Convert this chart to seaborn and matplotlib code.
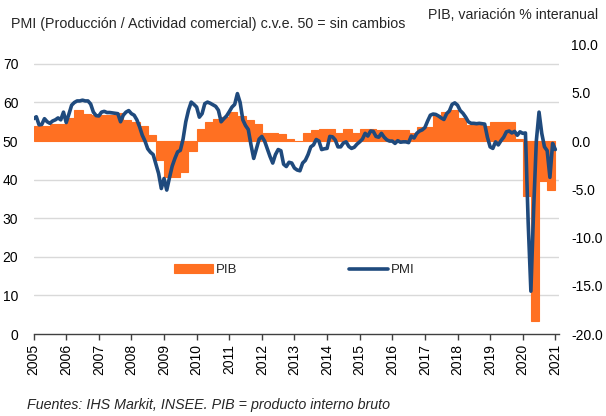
import seaborn as sns
from matplotlib import pyplot as plt
from matplotlib.ticker import FormatStrFormatter
import numpy as np
import pandas as pd

# PMI composite (production / business activity), monthly, Jan 2005 - Jan 2021
pmi_2005 = [55.8, 56.3, 54.2, 54.3, 55.8, 55.0, 54.6, 55.2, 55.5, 56.0, 55.5, 57.5]
pmi_2006 = [54.8, 57.0, 59.3, 60.0, 60.4, 60.4, 60.6, 60.4, 60.4, 59.6, 57.5, 56.6]
pmi_2007 = [56.5, 57.5, 57.7, 57.4, 57.4, 57.3, 57.2, 57.1, 55.0, 56.7, 57.5, 57.9]
pmi_2008 = [57.1, 56.7, 55.5, 53.7, 51.5, 50.0, 48.0, 47.1, 46.5, 44.0, 41.6, 37.7]
pmi_2009 = [40.3, 37.3, 40.5, 43.5, 45.5, 47.2, 47.6, 50.5, 55.0, 58.0, 60.1, 59.5]
pmi_2010 = [58.8, 56.2, 57.1, 59.7, 60.1, 59.8, 59.4, 59.0, 58.0, 55.0, 55.8, 56.5]
pmi_2011 = [57.6, 58.8, 59.5, 62.3, 60.0, 55.5, 54.0, 53.0, 49.0, 45.5, 48.0, 50.5]
pmi_2012 = [51.2, 50.0, 48.0, 46.0, 44.3, 46.5, 47.8, 47.5, 44.0, 43.4, 44.5, 44.3]
pmi_2013 = [43.0, 42.5, 42.3, 44.3, 45.0, 46.5, 48.5, 49.0, 50.4, 50.0, 47.8, 48.0]
pmi_2014 = [48.1, 51.2, 51.1, 50.3, 48.5, 48.5, 49.5, 49.8, 48.6, 48.1, 48.4, 49.2]
pmi_2015 = [49.8, 50.5, 52.0, 51.3, 52.6, 52.5, 51.2, 51.0, 52.0, 51.0, 50.3, 50.0]
pmi_2016 = [50.0, 49.4, 50.1, 49.7, 49.8, 49.8, 49.6, 51.3, 50.8, 52.0, 52.6, 52.9]
pmi_2017 = [53.5, 55.2, 56.7, 57.0, 56.9, 56.5, 56.0, 55.6, 57.1, 57.8, 59.5, 59.9]
pmi_2018 = [59.3, 57.9, 57.2, 56.2, 55.0, 54.6, 54.6, 54.5, 54.6, 54.5, 54.4, 51.0]
pmi_2019 = [48.5, 48.1, 49.8, 49.0, 50.1, 51.0, 52.4, 52.6, 52.1, 52.5, 51.5, 52.4]
pmi_2020 = [52.0, 52.1, 29.0, 11.1, 32.1, 50.0, 57.5, 52.0, 48.5, 47.5, 40.6, 49.4]
pmi_2021 = [47.8]

# PIB (GDP), % year on year, quarterly, 2005Q1 - 2020Q4
pib_2005 = [1.6, 1.6, 1.8, 1.8]
pib_2006 = [2.4, 3.2, 2.8, 2.7]
pib_2007 = [2.7, 2.7, 2.9, 2.2]
pib_2008 = [2.0, 1.6, 0.6, -2.0]
pib_2009 = [-3.7, -3.7, -3.2, -1.0]
pib_2010 = [1.2, 2.0, 2.3, 2.5]
pib_2011 = [3.0, 2.6, 2.2, 1.8]
pib_2012 = [0.8, 0.8, 0.7, 0.2]
pib_2013 = [0.0, 0.8, 1.1, 1.3]
pib_2014 = [1.3, 0.8, 1.3, 0.8]
pib_2015 = [1.3, 1.3, 1.1, 1.1]
pib_2016 = [1.1, 1.1, 0.8, 1.5]
pib_2017 = [1.5, 2.7, 3.0, 3.2]
pib_2018 = [2.4, 1.7, 1.7, 1.6]
pib_2019 = [2.0, 2.0, 2.0, 0.2]
pib_2020 = [-5.7, -18.7, -4.1, -5.1]

years = list(range(2005, 2022))
pmi_ticks = [0, 10, 20, 30, 40, 50, 60, 70]
pib_ticks = [-20, -15, -10, -5, 0, 5, 10]

pmi = (pmi_2005 + pmi_2006 + pmi_2007 + pmi_2008 + pmi_2009 + pmi_2010 + pmi_2011
       + pmi_2012 + pmi_2013 + pmi_2014 + pmi_2015 + pmi_2016 + pmi_2017 + pmi_2018
       + pmi_2019 + pmi_2020 + pmi_2021)
pib = (pib_2005 + pib_2006 + pib_2007 + pib_2008 + pib_2009 + pib_2010 + pib_2011
       + pib_2012 + pib_2013 + pib_2014 + pib_2015 + pib_2016 + pib_2017 + pib_2018
       + pib_2019 + pib_2020)

# Time positions as fractional years
months = pd.period_range('2005-01', periods=len(pmi), freq='M')
pmi_df = pd.DataFrame({'t': months.year + (months.month - 1) / 12, 'PMI': pmi})
quarters = pd.period_range('2005Q1', periods=len(pib), freq='Q')
pib_df = pd.DataFrame({'t': quarters.year + (quarters.quarter - 1) / 4, 'PIB': pib})

orange = '#FF7022'
blue = '#1F4A7D'
grid_grey = '#D9D9D9'
axis_grey = '#404040'

sns.set_theme(style='white')
plt.rcParams['font.family'] = ['Liberation Sans', 'DejaVu Sans']

fig = plt.figure(figsize=(6.06, 4.16), dpi=100)
ax_pib = fig.add_axes([33.6 / 606, 82 / 416, 525 / 606, 289.4 / 416])
ax_pmi = ax_pib.twinx()

# GDP bars on the bottom (right-hand scale), PMI line above (left-hand scale)
ax_pib.bar(pib_df['t'], pib_df['PIB'], width=0.25, align='edge', color=orange,
           edgecolor=orange, linewidth=0.8, label='PIB')
sns.lineplot(data=pmi_df, x='t', y='PMI', ax=ax_pmi, color=blue, linewidth=2.6, label='PMI')

ax_pmi.set_ylim(0, 75)
ax_pib.set_ylim(-20, 10)
ax_pib.set_xlim(2005, 2021.1)

# Grid lines follow the PMI ticks, but sit behind the bars
ax_pib.set_yticks([(v - 50) / 2.5 for v in pmi_ticks[1:]], minor=True)
ax_pib.grid(which='minor', axis='y', color=grid_grey, linewidth=1)
ax_pib.grid(which='major', visible=False)
ax_pmi.grid(False)

ax_pib.set_yticks(pib_ticks)
ax_pib.yaxis.set_major_formatter(FormatStrFormatter('%.1f'))
ax_pib.yaxis.tick_right()
ax_pmi.set_yticks(pmi_ticks)
ax_pmi.yaxis.tick_left()

ax_pib.set_xticks(years)
ax_pib.set_xticklabels([str(y) for y in years], rotation=90)
ax_pib.tick_params(axis='x', direction='out', length=4, width=1, color=axis_grey,
                   labelsize=10, pad=3, labelcolor='black', bottom=True)
ax_pib.tick_params(axis='y', which='both', length=0, labelsize=10, pad=9, labelcolor='black')
ax_pmi.tick_params(axis='y', length=0, labelsize=10, pad=11, labelcolor='black')

for a in (ax_pib, ax_pmi):
    for side in ('left', 'right', 'top'):
        a.spines[side].set_visible(False)
    a.set_xlabel('')
    a.set_ylabel('')
ax_pib.spines['bottom'].set_color(axis_grey)
ax_pib.spines['bottom'].set_linewidth(1)
ax_pmi.spines['bottom'].set_visible(False)

h1, l1 = ax_pib.get_legend_handles_labels()
h2, l2 = ax_pmi.get_legend_handles_labels()
ax_pmi.legend(h1 + h2, l1 + l2, loc='center', bbox_to_anchor=(0.497, 0.221), ncol=2,
              frameon=False, fontsize=9.5, handlelength=2.9, handletextpad=0.25,
              columnspacing=8.5)

fig.text(11 / 606, 1 - 24 / 416, 'PMI (Producción / Actividad comercial) c.v.e. 50 = sin cambios',
         ha='left', va='center', fontsize=10.3)
fig.text(598 / 606, 1 - 15 / 416, 'PIB, variación % interanual', ha='right', va='center', fontsize=10.2)
fig.text(27 / 606, 1 - 405 / 416, 'Fuentes: IHS Markit, INSEE. PIB = producto interno bruto',
         ha='left', va='center', fontsize=10.3, style='italic')

fig.savefig('out.png', dpi=100)
